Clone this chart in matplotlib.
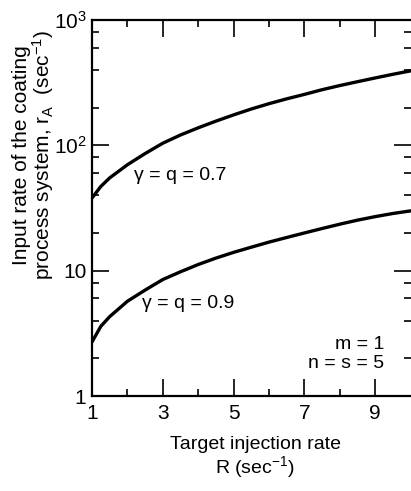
import matplotlib
matplotlib.use("Agg")
import matplotlib.pyplot as plt
from matplotlib.ticker import FixedLocator, FixedFormatter

plt.rcParams['font.family'] = ['Liberation Sans', 'DejaVu Sans']
plt.rcParams['mathtext.fontset'] = 'custom'
plt.rcParams['mathtext.rm'] = 'Liberation Sans'
plt.rcParams['mathtext.it'] = 'Liberation Sans:italic'

# Data
R_07 = [1.0, 1.25, 1.5, 2.0, 2.5, 3.0, 3.5, 4.0, 4.5, 5.0, 5.5, 6.0, 6.5, 7.0, 7.5, 8.0, 8.5, 9.0, 9.5, 10.0]
rA_07 = [38, 47, 55, 70, 86, 104, 121, 138, 156, 175, 195, 215, 235, 255, 278, 300, 322, 345, 369, 393]
R_09 = [1.0, 1.25, 1.5, 2.0, 2.5, 3.0, 3.5, 4.0, 4.5, 5.0, 5.5, 6.0, 6.5, 7.0, 7.5, 8.0, 8.5, 9.0, 9.5, 10.0]
rA_09 = [2.7, 3.6, 4.3, 5.7, 7.0, 8.5, 9.8, 11.2, 12.6, 14.0, 15.4, 16.9, 18.4, 20.0, 21.7, 23.5, 25.3, 27.0, 28.6, 30.0]
label_07 = "γ = q = 0.7"
label_09 = "γ = q = 0.9"
params_text = "m = 1\nn = s = 5"
x_ticks = [1, 3, 5, 7, 9]
x_minor = [2, 4, 6, 8]
y_ticks = [1, 10, 100, 1000]
y_ticklabels = ["1", "10", "$10^2$", "$10^3$"]
y_minor = [2, 4, 6, 8, 20, 40, 60, 80, 200, 400, 600, 800]

W, H = 411, 491
fig = plt.figure(figsize=(W / 100, H / 100), dpi=100)
left, right, top, bottom = 92, 410.7, 20, 396
ax = fig.add_axes([left / W, 1 - bottom / H, (right - left) / W, (bottom - top) / H])

ax.plot(R_07, rA_07, color='black', lw=2.4, solid_joinstyle='round')
ax.plot(R_09, rA_09, color='black', lw=2.4, solid_joinstyle='round')

ax.set_yscale('log')
ax.set_xlim(1, 10)
ax.set_ylim(1, 1000)

ax.xaxis.set_major_locator(FixedLocator(x_ticks))
ax.xaxis.set_minor_locator(FixedLocator(x_minor))
ax.yaxis.set_major_locator(FixedLocator(y_ticks))
ax.yaxis.set_major_formatter(FixedFormatter(y_ticklabels))
ax.yaxis.set_minor_locator(FixedLocator(y_minor))
ax.yaxis.set_minor_formatter(FixedFormatter([""] * len(y_minor)))

ax.tick_params(which='both', direction='in', top=True, right=True, width=1.2, color='black')
ax.tick_params(which='major', length=12, labelsize=15, pad=6)
ax.tick_params(which='minor', length=5)
ax.tick_params(axis='y', which='major', pad=4)

for s in ['left', 'top', 'bottom']:
    ax.spines[s].set_linewidth(1.6)
ax.spines['right'].set_visible(False)


def px_to_data(px, py):
    xd = 1 + (px - left) / ((right - left) / 9)
    yd = 10 ** ((bottom - py) / ((bottom - top) / 3))
    return xd, yd


x, y = px_to_data(180, 175)
ax.text(x, y, label_07, fontsize=14, ha='center', va='center')
x, y = px_to_data(188, 303)
ax.text(x, y, label_09, fontsize=14, ha='center', va='center')
x, y = px_to_data(384, 354)
ax.text(x, y, params_text, fontsize=14, ha='right', va='center', multialignment='right',
        linespacing=1.1)

fig.text(34 / W, 1 - 155 / H, "Input rate of the coating\nprocess system, r$_\\mathrm{A}$  (sec$^{-1}$)",
         rotation=90, ha='center', va='center', multialignment='center', fontsize=15, linespacing=1.0)
fig.text(255 / W, 1 - 458 / H, "Target injection rate\nR (sec$^{-1}$)", ha='center', va='center',
         multialignment='center', fontsize=14, linespacing=1.1)

fig.savefig("out.png", dpi=100)
